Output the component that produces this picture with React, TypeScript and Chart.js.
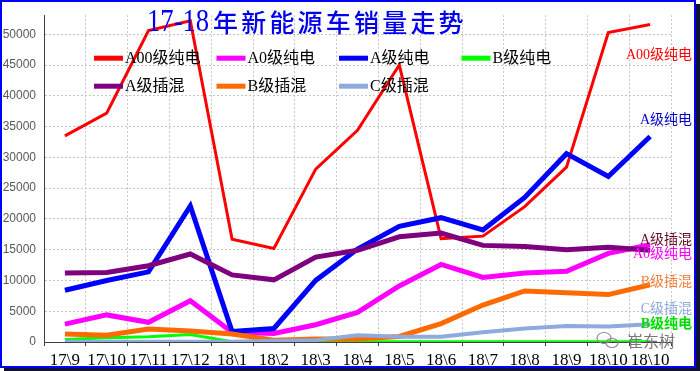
import React, { useEffect, useRef } from 'react';
import { Chart, registerables } from 'chart.js';

Chart.register(...registerables);

const categories = ['17\\9', '17\\10', '17\\11', '17\\12', '18\\1', '18\\2', '18\\3', '18\\4', '18\\5', '18\\6', '18\\7', '18\\8', '18\\9', '18\\10', '18\\10'];

const seriesNames = ['A00级纯电', 'A0级纯电', 'A级纯电', 'B级纯电', 'A级插混', 'B级插混', 'C级插混'];
const seriesColors = ['#FF0000', '#FF00FF', '#0000FF', '#00FF00', '#7F007F', '#FF6A00', '#8FAADC'];
const seriesWidths = [3, 5, 5, 3, 5, 5, 4];

const a00Ev = [33500, 37200, 50600, 52200, 16700, 15200, 28100, 34400, 45000, 16800, 17200, 22000, 28400, 50300, 51600];
const a0Ev = [2900, 4400, 3200, 6700, 1600, 1400, 2800, 4800, 9100, 12600, 10500, 11200, 11500, 14400, 15800];
const aEv = [8400, 10000, 11400, 22100, 1700, 2200, 10000, 15100, 18800, 20200, 18200, 23500, 30600, 26900, 33400];
const bEv = [400, 700, 850, 1200, 50, 50, 50, 50, 50, 50, 50, 50, 50, 50, 50];
const aPhev = [11200, 11300, 12400, 14300, 10900, 10100, 13800, 14900, 17100, 17700, 15700, 15500, 15000, 15400, 14900];
const bPhev = [1300, 1100, 2100, 1800, 1300, 300, 500, 500, 900, 3000, 6000, 8300, 8000, 7700, 9300];
const cPhev = [50, 50, 50, 50, 50, 200, 300, 1100, 850, 850, 1600, 2200, 2600, 2500, 2900];

const seriesData = [a00Ev, a0Ev, aEv, bEv, aPhev, bPhev, cPhev];

const yTickValues = [0, 5000, 10000, 15000, 20000, 25000, 30000, 35000, 40000, 45000, 50000];
const yMax = 53100;

const titleNumber = '17-18';
const titleChars = ['年', '新', '能', '源', '车', '销', '量', '走', '势'];

// end-of-line annotations: text, color, anchor value on the y axis
const endLabelTexts = ['A00级纯电', 'A级纯电', 'A级插混', 'A0级纯电', 'B级插混', 'C级插混', 'B级纯电'];
const endLabelColors = ['#FF0000', '#0000CC', '#6A0A2A', '#FF00FF', '#F28040', '#8FAADC', '#00DD00'];
const endLabelValues = [46500, 36000, 16600, 14200, 9700, 5300, 2800];

const watermarkText = '崔东树';

const CJK = "'Noto Sans CJK SC'";
const SERIF = "'Liberation Serif', " + CJK + ", serif";

const decorPlugin = {
  id: 'decor',
  beforeDraw(chart: any) {
    const ctx = chart.ctx;
    ctx.save();
    ctx.fillStyle = '#FFFFFF';
    ctx.fillRect(0, 0, chart.width, chart.height);
    ctx.restore();
  },
  afterDatasetsDraw(chart: any) {
    const ctx = chart.ctx;
    const area = chart.chartArea;
    const yScale = chart.scales.y;
    ctx.save();

    // legend (2 rows x 4 columns)
    ctx.textBaseline = 'middle';
    ctx.textAlign = 'left';
    ctx.font = '16px ' + SERIF;
    seriesNames.forEach((name, i) => {
      const col = i % 4;
      const row = Math.floor(i / 4);
      const x = area.left + 50 + col * 122.5;
      const y = area.top + 43 + row * 28;
      ctx.strokeStyle = seriesColors[i];
      ctx.lineWidth = 5;
      ctx.lineCap = 'butt';
      ctx.beginPath();
      ctx.moveTo(x, y);
      ctx.lineTo(x + 29, y);
      ctx.stroke();
      ctx.fillStyle = '#000000';
      ctx.fillText(name, x + 31, y + 1);
    });

    // end labels
    ctx.textAlign = 'right';
    endLabelTexts.forEach((t, i) => {
      ctx.font = (i === 6 ? 'bold ' : '') + '14px ' + SERIF;
      ctx.fillStyle = endLabelColors[i];
      ctx.fillText(t, chart.width - 8, yScale.getPixelForValue(endLabelValues[i]));
    });

    // title
    ctx.fillStyle = '#0000EE';
    ctx.textAlign = 'left';
    ctx.textBaseline = 'middle';
    ctx.font = '31px ' + "'Liberation Serif', serif";
    ctx.save();
    ctx.translate(147, 23);
    ctx.scale(0.86, 1);
    ctx.fillText(titleNumber, 0, 0);
    ctx.restore();
    ctx.font = '500 25px ' + CJK;
    titleChars.forEach((c, i) => {
      ctx.fillText(c, 213 + i * 28.2, 22);
    });

    // watermark
    ctx.strokeStyle = '#8A8A8A';
    ctx.lineWidth = 1.2;
    ctx.beginPath();
    ctx.ellipse(604, 338, 7, 5.5, 0, 0, Math.PI * 2);
    ctx.stroke();
    ctx.beginPath();
    ctx.ellipse(612, 343, 6, 4.5, 0, 0, Math.PI * 2);
    ctx.stroke();
    ctx.font = '16px ' + CJK;
    ctx.fillStyle = '#7A7A7A';
    ctx.textAlign = 'left';
    ctx.fillText(watermarkText, 627, 341);
    ctx.restore();
  },
  afterDraw(chart: any) {
    const ctx = chart.ctx;
    ctx.save();
    ctx.fillStyle = '#101030';
    ctx.fillRect(696, 4, 4, 367);
    ctx.fillRect(4, 368, 696, 3);
    ctx.strokeStyle = '#0000FF';
    ctx.lineWidth = 2;
    ctx.strokeRect(1, 1, 694, 366);
    ctx.restore();
  },
};

export default function App() {
  const canvasRef = useRef<HTMLCanvasElement | null>(null);

  useEffect(() => {
    document.body.style.margin = '0';
    const canvas = canvasRef.current;
    if (!canvas) return;
    const chart = new Chart(canvas, {
      type: 'line',
      data: {
        labels: categories,
        datasets: seriesData.map((d, i) => ({
          label: seriesNames[i],
          data: d,
          borderColor: seriesColors[i],
          backgroundColor: seriesColors[i],
          borderWidth: seriesWidths[i],
          pointRadius: 0,
          pointHoverRadius: 0,
          tension: 0,
          fill: false,
          order: seriesData.length - i,
          borderJoinStyle: 'miter' as const,
        })),
      },
      options: {
        responsive: false,
        animation: false,
        events: [],
        layout: { padding: { top: 15, right: 29, left: 0, bottom: 0 } },
        plugins: {
          legend: { display: false },
          tooltip: { enabled: false },
          title: { display: false },
        },
        scales: {
          x: {
            type: 'category',
            offset: true,
            grid: {
              offset: true,
              display: true,
              color: '#C4C4C4',
              lineWidth: 1,
              drawTicks: true,
              tickLength: 4,
              tickColor: '#404040',
              tickBorderDash: [],
              borderDash: [2, 2],
            } as any,
            border: { display: true, color: '#404040', width: 1, dash: [2, 2] } as any,
            ticks: {
              autoSkip: false,
              maxRotation: 0,
              minRotation: 0,
              color: '#000000',
              padding: 4,
              font: { family: "'Liberation Serif', serif", size: 17 },
            },
            afterFit(scale: any) {
              scale.height = 29;
            },
          },
          y: {
            type: 'linear',
            min: 0,
            max: yMax,
            afterBuildTicks(scale: any) {
              scale.ticks = yTickValues.map((v) => ({ value: v }));
            },
            grid: {
              color: '#C4C4C4',
              lineWidth: 1,
              drawTicks: false,
              borderDash: [2, 2],
            } as any,
            border: { display: true, color: '#404040', width: 1, dash: [2, 2] } as any,
            ticks: {
              color: '#595959',
              padding: 8,
              font: { family: "'Liberation Sans', Arial, sans-serif", size: 12 },
              callback: (v: any) => String(v),
            },
            afterFit(scale: any) {
              scale.width = 44;
            },
          },
        },
      },
      plugins: [decorPlugin],
    });
    return () => chart.destroy();
  }, []);

  return (
    <div style={{ position: 'absolute', left: 0, top: 0, width: 700, height: 371 }}>
      <canvas ref={canvasRef} width={700} height={371} style={{ display: 'block', width: 700, height: 371 }} />
    </div>
  );
}
